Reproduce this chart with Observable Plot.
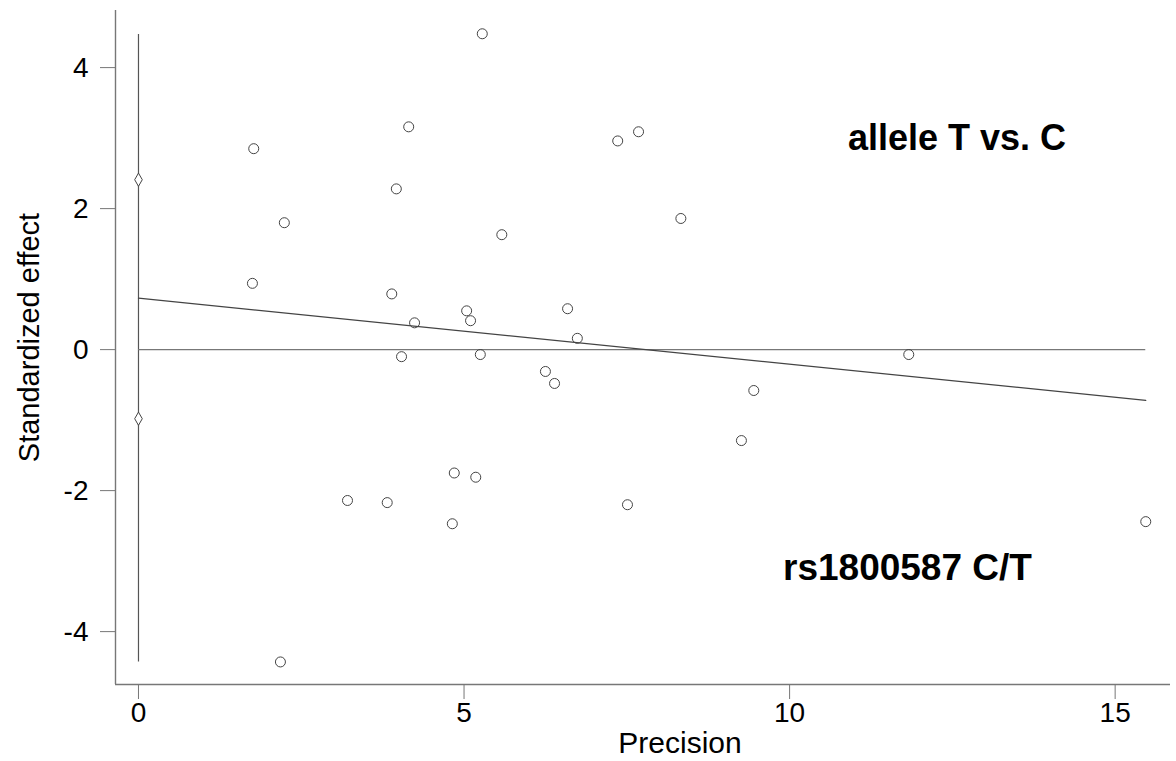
<!DOCTYPE html>
<html>
<head>
<meta charset="utf-8">
<script src="https://cdn.jsdelivr.net/npm/d3@7"></script>
<script src="https://cdn.jsdelivr.net/npm/@observablehq/plot@0.6"></script>
<style>
  html, body { margin: 0; padding: 0; background: #fff; }
  svg { display: block; }
</style>
</head>
<body>
<div id="chart"></div>
<script>
// Study points (precision, standardized effect)
const precision = [5.28, 4.15, 1.77, 7.36, 7.68, 3.96, 2.24, 5.58, 8.33, 1.75, 3.89, 4.24, 5.04, 5.10, 6.59, 6.74, 4.04, 5.25, 6.25, 6.39, 11.83, 9.45, 9.26, 3.21, 3.82, 4.85, 5.18, 4.82, 7.51, 2.18, 15.47];
const stdEffect = [4.48, 3.16, 2.85, 2.96, 3.09, 2.28, 1.80, 1.63, 1.86, 0.94, 0.79, 0.38, 0.55, 0.41, 0.58, 0.16, -0.10, -0.07, -0.31, -0.48, -0.07, -0.58, -1.29, -2.14, -2.17, -1.75, -1.81, -2.47, -2.20, -4.43, -2.44];
// Diamonds on the y axis (intercept and its CI bounds)
const diamondY = [2.41, -0.98];
// Vertical CI line at precision 0
const ciLine = [{x: 0, y1: -4.43, y2: 4.47}];
// Zero line
const zeroLine = [{y: 0, x1: 0, x2: 15.47}];
// Regression (Egger) line endpoints
const regX = [0, 15.47];
const regY = [0.73, -0.72];
// Ticks
const xTicks = [0, 5, 10, 15];
const yTicks = [-4, -2, 0, 2, 4];
// Annotations
const labels = [
  {x: 12.57, y: 3.0, text: "allele T vs. C", size: 36},
  {x: 11.81, y: -3.1, text: "rs1800587 C/T", size: 37}
];
const xDomain = [-0.353, 15.85];
const yDomain = [-4.75, 4.81];

const points = precision.map((p, i) => ({x: p, y: stdEffect[i]}));
const diamonds = diamondY.map(y => ({x: 0, y}));
const reg = regX.map((x, i) => ({x, y: regY[i]}));
const fmt = d => d.toString();

const plot = Plot.plot({
  width: 1176,
  height: 761,
  marginLeft: 115,
  marginRight: 6,
  marginTop: 10,
  marginBottom: 77,
  style: {fontFamily: "'Liberation Sans', Arial, sans-serif", fontSize: "28px", background: "#fff", color: "#000"},
  x: {domain: xDomain, ticks: xTicks, label: null},
  y: {domain: yDomain, ticks: yTicks, label: null},
  marks: [
    Plot.ruleX([xDomain[0]], {stroke: "#777", strokeWidth: 1.4}),
    Plot.ruleY([yDomain[0]], {stroke: "#777", strokeWidth: 1.4}),
    Plot.axisX({ticks: xTicks, tickFormat: fmt, tickSize: 15, tickPadding: 3, fontSize: 28, stroke: "#777", fill: "#000", label: null}),
    Plot.axisY({ticks: yTicks, tickFormat: fmt, tickSize: 15, tickPadding: 12, fontSize: 28, stroke: "#777", fill: "#000", label: null}),
    Plot.ruleX(ciLine, {x: "x", y1: "y1", y2: "y2", stroke: "#555", strokeWidth: 1.2}),
    Plot.ruleY(zeroLine, {y: "y", x1: "x1", x2: "x2", stroke: "#777", strokeWidth: 1.3}),
    Plot.line(reg, {x: "x", y: "y", stroke: "#444", strokeWidth: 1.2}),
    Plot.dot(points, {x: "x", y: "y", r: 5, stroke: "#444", strokeWidth: 1, fill: "none"}),
    Plot.dot(diamonds, {x: "x", y: "y", symbol: "diamond", r: 4, stroke: "#444", strokeWidth: 1, fill: "#fff"}),
    Plot.text(labels, {x: "x", y: "y", text: "text", fontSize: "size", fontWeight: "bold", fill: "#000", textAnchor: "middle"}),
    Plot.text(["Precision"], {frameAnchor: "bottom", textAnchor: "middle", dx: 37, dy: 68, fontSize: 30, fill: "#000"}),
    Plot.text(["Standardized effect"], {frameAnchor: "left", textAnchor: "middle", dx: -86, dy: -10, rotate: -90, fontSize: 29, fill: "#000"})
  ]
});
document.getElementById("chart").appendChild(plot);
</script>
</body>
</html>
